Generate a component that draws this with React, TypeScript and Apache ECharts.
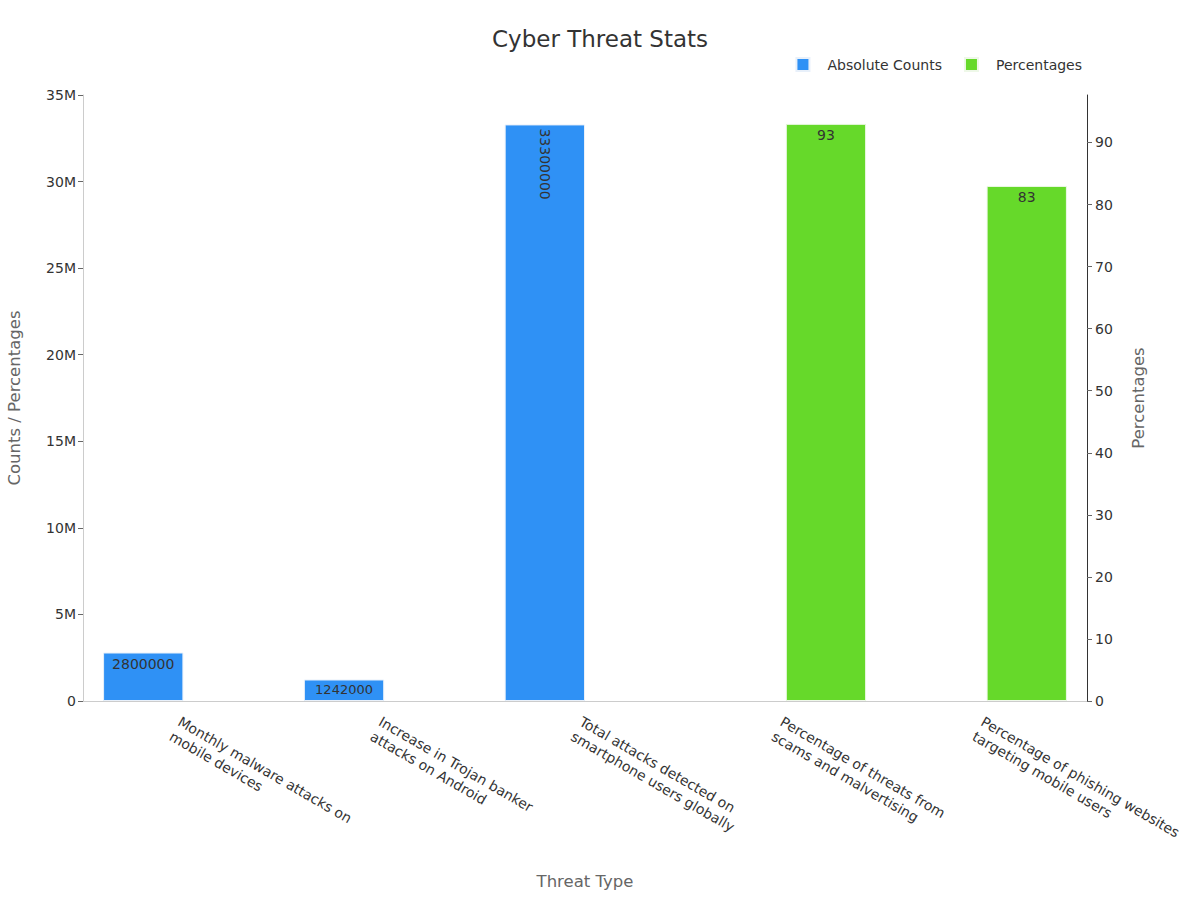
import React, { useEffect, useRef } from "react";
import * as echarts from "echarts";

const categories = [
  "Monthly malware attacks on mobile devices",
  "Increase in Trojan banker attacks on Android",
  "Total attacks detected on smartphone users globally",
  "Percentage of threats from scams and malvertising",
  "Percentage of phishing websites targeting mobile users",
];
const absoluteCounts: (number | null)[] = [2800000, 1242000, 33300000, null, null];
const percentages: (number | null)[] = [null, null, null, 93, 83];
const leftTicks = [0, 5000000, 10000000, 15000000, 20000000, 25000000, 30000000, 35000000];
const rightTicks = [0, 10, 20, 30, 40, 50, 60, 70, 80, 90];

const FONT = "DejaVu Sans";

function wrapWords(s: string, n: number) {
  const w = s.split(" ");
  const lines: string[] = [];
  for (let i = 0; i < w.length; i += n) lines.push(w.slice(i, i + n).join(" "));
  return lines.join("\n");
}

export default function App() {
  const ref = useRef<HTMLDivElement>(null);
  useEffect(() => {
    if (!ref.current) return;
    const chart = echarts.init(ref.current, null, { renderer: "svg" });
    chart.setOption({
      animation: false,
      textStyle: { fontFamily: FONT },
      title: {
        text: "Cyber Threat Stats",
        left: "center",
        top: 22,
        textStyle: { fontFamily: FONT, fontSize: 23, fontWeight: "normal", color: "#333" },
      },
      legend: {
        top: 52,
        right: 113,
        icon: "rect",
        itemWidth: 13,
        itemHeight: 13,
        itemGap: 22,
        textStyle: { fontFamily: FONT, fontSize: 14, color: "#333", padding: [0, 0, 0, 13] },
        data: ["Absolute Counts", "Percentages"],
      },
      grid: { left: 83, right: 113, top: 95, bottom: 199, outerBoundsMode: "none", containLabel: false },
      xAxis: {
        type: "category",
        data: categories,
        name: "Threat Type",
        nameLocation: "middle",
        nameGap: 172,
        nameTextStyle: { fontFamily: FONT, fontSize: 16.5, color: "#666" },
        axisLine: { lineStyle: { color: "#ccc" } },
        axisTick: { alignWithLabel: true, length: 5, lineStyle: { color: "#666" } },
        axisLabel: {
          interval: 0,
          rotate: -30,
          margin: 12,
          verticalAlign: "top",
          fontFamily: FONT,
          fontSize: 14,
          lineHeight: 17,
          color: "#333",
          formatter: (v: string) => wrapWords(v, 4),
        },
      },
      yAxis: [
        {
          type: "value",
          min: 0,
          max: 35000000,
          interval: 5000000,
          name: "Counts / Percentages",
          nameLocation: "middle",
          nameGap: 60,
          nameTextStyle: { fontFamily: FONT, fontSize: 16.5, color: "#666" },
          axisLine: { show: true, lineStyle: { color: "#ccc" } },
          axisTick: { show: true, length: 5, lineStyle: { color: "#666" }, customValues: leftTicks },
          splitLine: { show: false },
          axisLabel: {
            fontFamily: FONT,
            fontSize: 14,
            color: "#333",
            margin: 7,
            customValues: leftTicks,
            formatter: (v: number) => (v === 0 ? "0" : v / 1000000 + "M"),
          },
        },
        {
          type: "value",
          min: 0,
          max: 97.65,
          name: "Percentages",
          nameLocation: "middle",
          nameGap: 43,
          nameTextStyle: { fontFamily: FONT, fontSize: 16.5, color: "#666" },
          axisLine: { show: true, lineStyle: { color: "#333" } },
          axisTick: { show: true, length: 5, lineStyle: { color: "#666" }, customValues: rightTicks },
          splitLine: { show: false },
          axisLabel: {
            fontFamily: FONT,
            fontSize: 14,
            color: "#333",
            margin: 8,
            customValues: rightTicks,
          },
        },
      ],
      series: [
        {
          name: "Absolute Counts",
          type: "bar",
          yAxisIndex: 0,
          barGap: "0%",
          barCategoryGap: "20%",
          itemStyle: { color: "#2f91f5", borderColor: "#e8f0fa", borderWidth: 1 },
          data: absoluteCounts.map((v) =>
            v == null
              ? null
              : {
                  value: v,
                  label:
                    v > 20000000
                      ? { rotate: -90, align: "left", verticalAlign: "middle", distance: 4 }
                      : { fontSize: v < 2000000 ? 13 : 14 },
                }
          ),
          label: {
            show: true,
            position: "insideTop",
            distance: 4,
            fontFamily: FONT,
            fontSize: 14,
            color: "#333",
          },
        },
        {
          name: "Percentages",
          type: "bar",
          yAxisIndex: 1,
          barGap: "0%",
          barCategoryGap: "20%",
          itemStyle: { color: "#66d92a", borderColor: "#eef8e8", borderWidth: 1 },
          data: percentages,
          label: {
            show: true,
            position: "insideTop",
            distance: 4,
            fontFamily: FONT,
            fontSize: 14,
            color: "#333",
          },
        },
      ],
    });
    return () => chart.dispose();
  }, []);
  return (
    <div
      ref={ref}
      style={{ position: "fixed", left: 0, top: 0, width: 1200, height: 900, background: "#fff" }}
    />
  );
}
